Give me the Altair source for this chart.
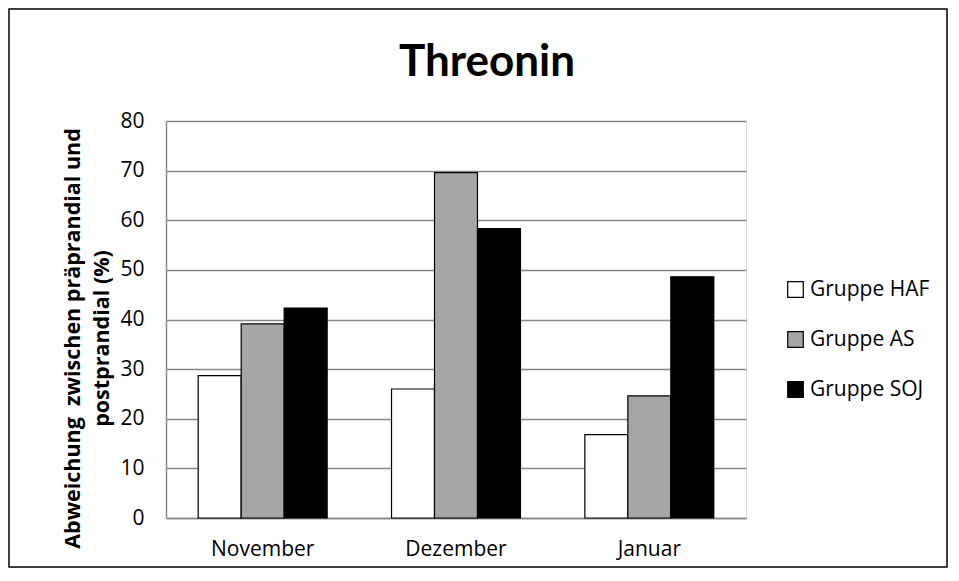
import altair as alt
import pandas as pd

months = ["November", "Dezember", "Januar"]
groups = ["Gruppe HAF", "Gruppe AS", "Gruppe SOJ"]
haf = [28.7, 26.0, 16.8]
as_ = [39.1, 69.6, 24.6]
soj = [42.3, 58.3, 48.6]
colors = ["#ffffff", "#a6a6a6", "#000000"]
y_ticks = [0, 10, 20, 30, 40, 50, 60, 70, 80]
title_text = "Threonin"

rows = []
for g, vals in zip(groups, [haf, as_, soj]):
    for m, v in zip(months, vals):
        rows.append({"Monat": m, "Gruppe": g, "Wert": v})
df = pd.DataFrame(rows)

FONT = "Open Sans"
GRID = "#878787"

bars = alt.Chart(df).mark_bar(stroke="black", strokeWidth=1.2).encode(
    x=alt.X("Monat:N", sort=months,
            scale=alt.Scale(paddingInner=0.333, paddingOuter=0.1665),
            axis=alt.Axis(title=None, labelAngle=0, ticks=False, grid=False,
                          labelFont=FONT, labelFontSize=21, labelColor="black",
                          labelPadding=20, domainColor=GRID, domainWidth=1.5)),
    xOffset=alt.XOffset("Gruppe:N", sort=groups, scale=alt.Scale(paddingInner=0, paddingOuter=0)),
    y=alt.Y("Wert:Q", scale=alt.Scale(domain=[0, 80], nice=False),
            axis=alt.Axis(values=y_ticks,
                          title=["Abweichung\u00a0 zwischen präprandial und", "postprandial (%)"],
                          titleFont=FONT, titleFontSize=21.5, titleFontWeight="bold", titleColor="black",
                          titleLineHeight=29, titlePadding=6, titleY=217,
                          labelFont=FONT, labelFontSize=21, labelColor="black", labelPadding=22,
                          ticks=False, grid=True, gridColor=GRID, gridWidth=1.4,
                          domainColor=GRID, domainWidth=1.5)),
    color=alt.Color("Gruppe:N", sort=groups,
                    scale=alt.Scale(domain=groups, range=colors),
                    legend=alt.Legend(title=None, orient="none", legendX=619, legendY=158,
                                      symbolType="square", symbolSize=243,
                                      symbolStrokeColor="black", symbolStrokeWidth=1.2,
                                      symbolOpacity=1,
                                      labelFont=FONT, labelFontSize=21, labelColor="black",
                                      labelOffset=4, rowPadding=28, padding=0)),
)

frame = alt.Chart(pd.DataFrame({"k": [0]})).mark_rect(
    filled=False, stroke="black", strokeWidth=1.5
).encode(
    x=alt.value(-157), x2=alt.value(781), y=alt.value(-112), y2=alt.value(446)
)

title = alt.Chart(pd.DataFrame({"t": [title_text]})).mark_text(
    font="Lato", fontSize=44, fontWeight="bold", color="black",
    align="center", baseline="alphabetic"
).encode(text="t:N", x=alt.value(321), y=alt.value(-45))

chart = alt.layer(bars, frame, title).properties(
    width=580, height=397,
    autosize=alt.AutoSizeParams(type="none"),
    padding={"left": 158, "top": 113, "right": 202, "bottom": 50},
).configure_view(stroke=None).configure(background="white")

chart.save("out.html", embed_options={"renderer": "svg", "actions": False})
